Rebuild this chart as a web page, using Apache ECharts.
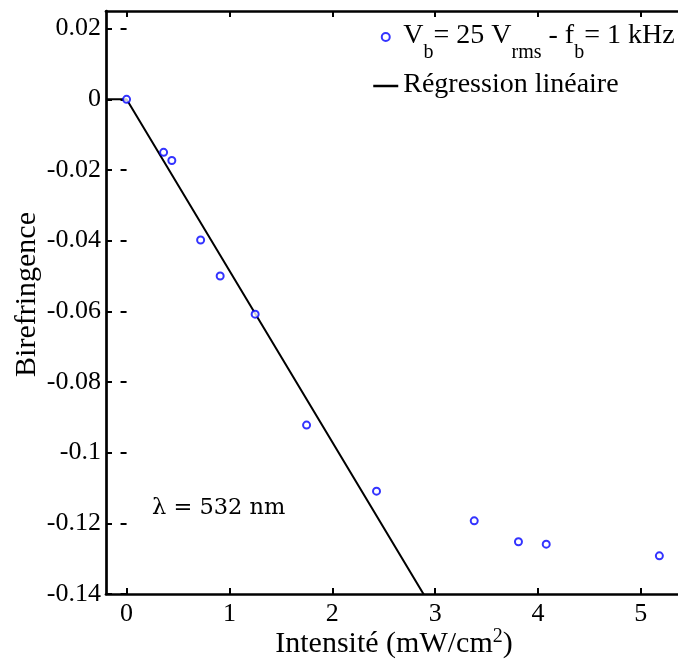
<!DOCTYPE html>
<html>
<head>
<meta charset="utf-8">
<script src="https://cdn.jsdelivr.net/npm/echarts@6/dist/echarts.min.js"></script>
<style>html,body{margin:0;padding:0;background:#fff}#c{width:678px;height:660px}</style>
</head>
<body>
<div id="c"></div>
<script>
// Measured data
const intensity = [0, 0.36, 0.44, 0.72, 0.91, 1.25, 1.75, 2.43, 3.38, 3.81, 4.08, 5.18];
const birefringence = [0, -0.0150, -0.0173, -0.0398, -0.0500, -0.0608, -0.0922, -0.1109, -0.1193, -0.1252, -0.1259, -0.1292];
// Linear regression line (drawn segment)
const fitX = [-0.2, 0, 3.0];
const fitY = [0, 0, -0.1455];
// Ticks
const xTicks = [0, 1, 2, 3, 4, 5];
const yTicks = [-0.14, -0.12, -0.1, -0.08, -0.06, -0.04, -0.02, 0, 0.02];

const FONT = 'Liberation Serif';
const chart = echarts.init(document.getElementById('c'), null, {renderer: 'canvas'});
const axisLineStyle = {color: '#000', width: 2.7};
const tickStyle = {color: '#000', width: 2};
const fmtY = v => String(+(+v).toFixed(2));

chart.setOption({
  animation: false,
  backgroundColor: '#fff',
  grid: {left: 106, width: 576, top: 11, bottom: 66, containLabel: false, outerBoundsMode: 'none'},
  xAxis: [{
    type: 'value', min: -0.2, max: 5.4, position: 'bottom',
    splitLine: {show: false},
    axisLine: {show: true, onZero: false, lineStyle: axisLineStyle},
    axisTick: {show: true, inside: true, length: 6, lineStyle: tickStyle, customValues: xTicks},
    axisLabel: {customValues: xTicks, color: '#000', fontFamily: FONT, fontSize: 26, margin: 7, formatter: v => String(v)},
    name: '{n|Intensité (mW/cm}{sup|2}{n|)}', nameLocation: 'middle', nameGap: 27, nameMoveOverlap: false,
    nameTextStyle: {
      color: '#000', fontFamily: FONT, fontSize: 30,
      rich: {
        n: {fontFamily: FONT, fontSize: 30, color: '#000', lineHeight: 32, verticalAlign: 'top', padding: [8, 0, 0, 0]},
        sup: {fontFamily: FONT, fontSize: 20, color: '#000', lineHeight: 20, verticalAlign: 'top', padding: [6, 0, 0, 0]}
      }
    }
  }, {
    type: 'value', min: -0.2, max: 5.4, position: 'top',
    splitLine: {show: false},
    axisLine: {show: true, onZero: false, lineStyle: axisLineStyle},
    axisTick: {show: true, inside: true, length: 6, lineStyle: tickStyle, customValues: xTicks},
    axisLabel: {show: false}
  }],
  yAxis: [{
    type: 'value', min: -0.14, max: 0.025, position: 'left',
    splitLine: {show: false},
    axisLine: {show: true, onZero: false, lineStyle: axisLineStyle},
    axisTick: {show: true, inside: true, length: 6, lineStyle: tickStyle, customValues: yTicks},
    axisLabel: {customValues: yTicks, color: '#000', fontFamily: FONT, fontSize: 26, margin: 5, formatter: fmtY},
    name: 'Birefringence', nameLocation: 'middle', nameGap: 64, nameRotate: 90, nameMoveOverlap: false,
    nameTextStyle: {color: '#000', fontFamily: FONT, fontSize: 30, padding: [0, 0, 0, 16]}
  }, {
    type: 'value', min: -0.14, max: 0.025, position: 'right',
    splitLine: {show: false},
    axisLine: {show: false},
    axisTick: {show: true, inside: true, length: 6, lineStyle: tickStyle, customValues: yTicks},
    axisLabel: {show: false}
  }],
  legend: {
    orient: 'vertical', left: 372, top: 22, itemGap: 8, padding: 0,
    itemWidth: 25, itemHeight: 8,
    data: [{name: 'vb'}, {name: 'reg', itemStyle: {opacity: 0}, lineStyle: {color: '#000', width: 2.5}}],
    formatter: function (name) {
      if (name === 'vb') return '{n|V}{s|b}{n|= 25 V}{s|rms}{n| - f}{s|b}{n|= 1 kHz}';
      return '{n|Régression linéaire}';
    },
    textStyle: {
      color: '#000', fontFamily: FONT, fontSize: 28,
      rich: {
        n: {fontFamily: FONT, fontSize: 28, color: '#000', lineHeight: 30, verticalAlign: 'top'},
        s: {fontFamily: FONT, fontSize: 20, color: '#000', lineHeight: 20, verticalAlign: 'top', padding: [21, 0, 0, 0]}
      }
    }
  },
  graphic: [{
    type: 'text', left: 152, top: 497,
    style: {text: 'λ = 532 nm', font: '22.5px "DejaVu Serif"', fill: '#000'}
  }],
  series: [{
    name: 'vb', type: 'scatter', xAxisIndex: 0, yAxisIndex: 0,
    data: intensity.map((x, i) => [x, birefringence[i]]),
    symbol: 'emptyCircle', symbolSize: 7,
    itemStyle: {color: '#0000ff', borderColor: '#0000ff', borderWidth: 2.8},
    z: 3
  }, {
    name: 'reg', type: 'line', xAxisIndex: 0, yAxisIndex: 0,
    data: fitX.map((x, i) => [x, fitY[i]]),
    showSymbol: false, symbol: 'none', clip: true,
    lineStyle: {color: '#000', width: 2},
    itemStyle: {color: '#000'},
    z: 2
  }]
});
</script>
</body>
</html>
